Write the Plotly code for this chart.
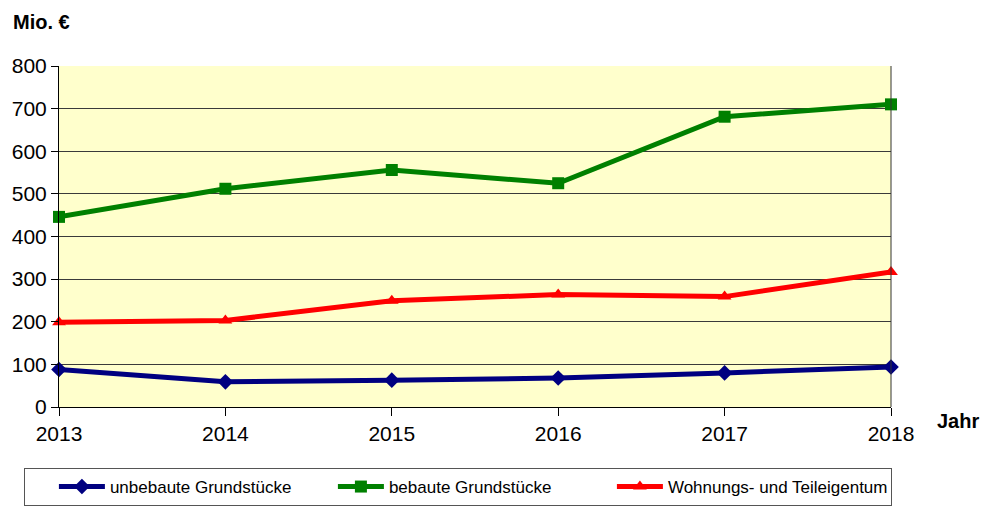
import plotly.graph_objects as go

years = [2013, 2014, 2015, 2016, 2017, 2018]
unbebaut = [88, 59, 63, 68, 80, 94]
bebaut = [446, 512, 556, 525, 681, 710]
wohnung = [199, 203, 249, 264, 259, 317]

names = ["unbebaute Grundstücke", "bebaute Grundstücke", "Wohnungs- und Teileigentum"]
colors = ["#000080", "#008000", "#FF0000"]
symbols = ["diamond", "square", "triangle-up"]
sizes = [12, 12, 12]

fig = go.Figure()
for vals, n, c, s, sz in zip([unbebaut, bebaut, wohnung], names, colors, symbols, sizes):
    fig.add_trace(go.Scatter(
        x=years, y=vals, name=n, mode="lines+markers",
        line=dict(color=c, width=5),
        marker=dict(color=c, symbol=s, size=sz, line=dict(width=0)),
        cliponaxis=False,
    ))

font = "Liberation Sans, Arial, sans-serif"
PL, PR, PT, PB = 59, 891, 66, 408
W = PR - PL
H = PB - PT
fig.update_layout(
    width=985, height=517,
    margin=dict(l=PL, r=985 - PR, t=PT, b=517 - PB),
    paper_bgcolor="white",
    plot_bgcolor="#FFFFCC",
    font=dict(family=font, size=21, color="black"),
    showlegend=True,
    legend=dict(
        orientation="h", x=(24 - PL) / W, y=(PB - 468) / H, xanchor="left", yanchor="top",
        bordercolor="#555555", borderwidth=1, bgcolor="white",
        font=dict(size=17, family=font),
        entrywidth=218, entrywidthmode="pixels",
        itemwidth=46,
        title=dict(text="&nbsp;&nbsp;&nbsp;&nbsp;", side="left", font=dict(size=17)),
    ),
    xaxis=dict(
        range=[2013, 2018], tickmode="array", tickvals=years,
        ticktext=[str(y) for y in years],
        showgrid=False, showline=True, linecolor="black", linewidth=1,
        ticks="outside", ticklen=8, tickcolor="black",
        zeroline=False, tickfont=dict(size=21),
    ),
    yaxis=dict(
        range=[0, 800], dtick=100, tick0=0,
        showgrid=True, gridcolor="#3a3a3a", gridwidth=1,
        showline=True, linecolor="black", linewidth=1,
        ticks="outside", ticklen=7, tickcolor="black",
        zeroline=False, tickfont=dict(size=21),
    ),
    annotations=[
        dict(text="<b>Mio. €</b>", xref="paper", yref="paper",
             x=(11 - PL) / W, y=(PB - 22) / H, xanchor="left", yanchor="middle",
             showarrow=False, font=dict(size=20)),
        dict(text="<b>Jahr</b>", xref="paper", yref="paper",
             x=(935 - PL) / W, y=(PB - 422) / H, xanchor="left", yanchor="middle",
             showarrow=False, font=dict(size=20)),
    ],
)
fig.add_shape(type="line", xref="paper", yref="paper", x0=1, x1=1, y0=0, y1=1,
              line=dict(color="#333333", width=1))

fig.write_html("out.html", config={"displayModeBar": False},
               post_script="document.body.style.margin='0';document.body.style.overflow='hidden';")
